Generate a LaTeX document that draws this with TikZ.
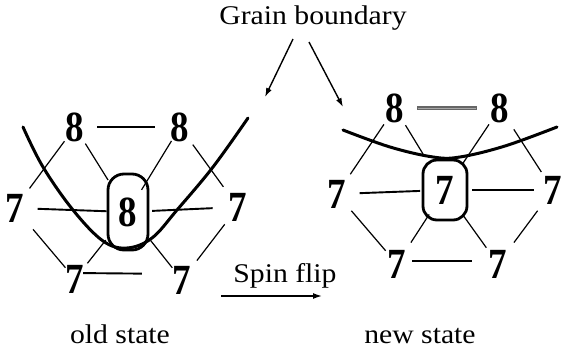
\documentclass[tikz,border=0pt]{standalone}
\usepackage{fontspec}
\setmainfont{Liberation Serif}
\usetikzlibrary{arrows.meta,calc}
\newcommand{\dg}[1]{\scalebox{0.86}[1]{#1}}
\begin{document}
\begin{tikzpicture}[x=1pt,y=-1pt,
  dig/.style={font=\fontsize{43}{43}\selectfont\bfseries, inner sep=1pt},
  lbl/.style={font=\fontsize{27}{30}\selectfont, inner sep=0pt},
  diag/.style={line width=1.2pt},
  hline/.style={line width=1.9pt},
  ring/.style={draw, rectangle, rounded corners=16pt, line width=2.8pt, inner sep=0pt},
  gb/.style={line width=3pt, line cap=round},
  arr/.style={line width=1.4pt, -{Latex[length=9pt,width=6pt]}}]
\useasboundingbox (0,0) rectangle (563,349);
\fill[white] (0,0) rectangle (563,349);

% ---------- old state ----------
\node[dig] (a1) at (75,127) {\dg{8}};
\node[dig] (a2) at (180,127) {\dg{8}};
\node[dig] (a3) at (15,208) {\dg{7}};
\node[dig] (a4) at (238,207) {\dg{7}};
\node[dig] (a5) at (75,279) {\dg{7}};
\node[dig] (a6) at (182,280) {\dg{7}};
\node[ring, dig, minimum width=40pt, minimum height=76pt] (ac) at (128,212) {\dg{8}};

\draw[hline] ($(a1)!0.21!(a2)$) -- ($(a1)!0.76!(a2)$);
\draw[hline] ($(a3)!0.20!(ac)$) -- ($(a3)!0.81!(ac)$);
\draw[hline] ($(ac)!0.22!(a4)$) -- ($(ac)!0.77!(a4)$);
\draw[hline] ([yshift=6pt]$(a5)!0.075!(a6)$) -- ([yshift=6pt]$(a5)!0.626!(a6)$);

\draw[diag] ($(a1)!0.176!(a3)$) -- ($(a1)!0.758!(a3)$);
\draw[diag] ($(a1)!0.195!(ac)$) -- ($(a1)!0.624!(ac)$);
\draw[diag] ($(a2)!0.164!(ac)$) -- ($(a2)!0.739!(ac)$);
\draw[diag] ($(a2)!0.22!(a4)$) -- ($(a2)!0.748!(a4)$);
\draw[diag] ($(a3)!0.30!(a5)$) -- ($(a3)!0.84!(a5)$);
\draw[diag] ($(ac)!0.42!(a5)$) -- ($(ac)!0.766!(a5)$);
\draw[diag] ($(ac)!0.42!(a6)$) -- ($(ac)!0.82!(a6)$);
\draw[diag] ($(a4)!0.237!(a6)$) -- ($(a4)!0.734!(a6)$);

\draw[gb] plot[smooth, tension=0.6] coordinates {(23,127) (43,167) (73,210) (103,241) (127,248) (152,238) (177,210) (213,167) (248,118)};

% ---------- new state ----------
\node[dig] (b1) at (395,108) {\dg{8}};
\node[dig] (b2) at (500,108) {\dg{8}};
\node[dig] (b3) at (337,194) {\dg{7}};
\node[dig] (b4) at (553,190) {\dg{7}};
\node[dig] (b5) at (397,264) {\dg{7}};
\node[dig] (b6) at (498,264) {\dg{7}};
\node[ring, dig, rounded corners=14pt, minimum width=44pt, minimum height=60pt] (bc) at (445,190) {\dg{7}};

\draw[line width=3.2pt, black!60] ($(b1)!0.21!(b2)$) -- ($(b1)!0.78!(b2)$);
\draw[line width=1pt, white!65!black] ($(b1)!0.22!(b2)$) -- ($(b1)!0.77!(b2)$);
\draw[hline] ($(b3)!0.21!(bc)$) -- ($(b3)!0.77!(bc)$);
\draw[hline] ($(bc)!0.25!(b4)$) -- ($(bc)!0.82!(b4)$);
\draw[hline] ([yshift=3pt]$(b5)!0.15!(b6)$) -- ([yshift=3pt]$(b5)!0.74!(b6)$);

\draw[diag] ($(b1)!0.19!(b3)$) -- ($(b1)!0.77!(b3)$);
\draw[diag] ($(b1)!0.21!(bc)$) -- ($(b1)!0.56!(bc)$);
\draw[diag] ($(b2)!0.20!(bc)$) -- ($(b2)!0.67!(bc)$);
\draw[diag] ($(b2)!0.26!(b4)$) -- ($(b2)!0.78!(b4)$);
\draw[diag] ($(b3)!0.24!(b5)$) -- ($(b3)!0.81!(b5)$);
\draw[diag] ($(bc)!0.33!(b5)$) -- ($(bc)!0.71!(b5)$);
\draw[diag] ($(bc)!0.33!(b6)$) -- ($(bc)!0.78!(b6)$);
\draw[diag] ($(b4)!0.28!(b6)$) -- ($(b4)!0.71!(b6)$);

\draw[gb] plot[smooth, tension=0.6] coordinates {(343,130) (390,147) (433,157) (460,157) (505,146) (557,127)};

% ---------- labels ----------
\node[lbl, anchor=base] (g) at (313,24) {\scalebox{1.1}[1]{Grain boundary}};
\coordinate (gl) at (265,97);
\coordinate (gr) at (343,107);
\draw[arr] ($(g.south)+(-20,9)$) -- (gl);
\draw[arr] ($(g.south)+(-4,12)$) -- (gr);

\node[lbl, anchor=base] (sf) at (285,282) {\scalebox{1.1}[1]{Spin flip}};
\coordinate (sfe) at (322,296);
\draw[arr] (sfe -| sf.west) ++(-12,0) -- (sfe);

\node[lbl, anchor=base] (os) at (120,343) {\scalebox{1.1}[1]{old state}};
\node[lbl, anchor=base] (ns) at (420,343) {\scalebox{1.1}[1]{new state}};
\end{tikzpicture}
\end{document}
